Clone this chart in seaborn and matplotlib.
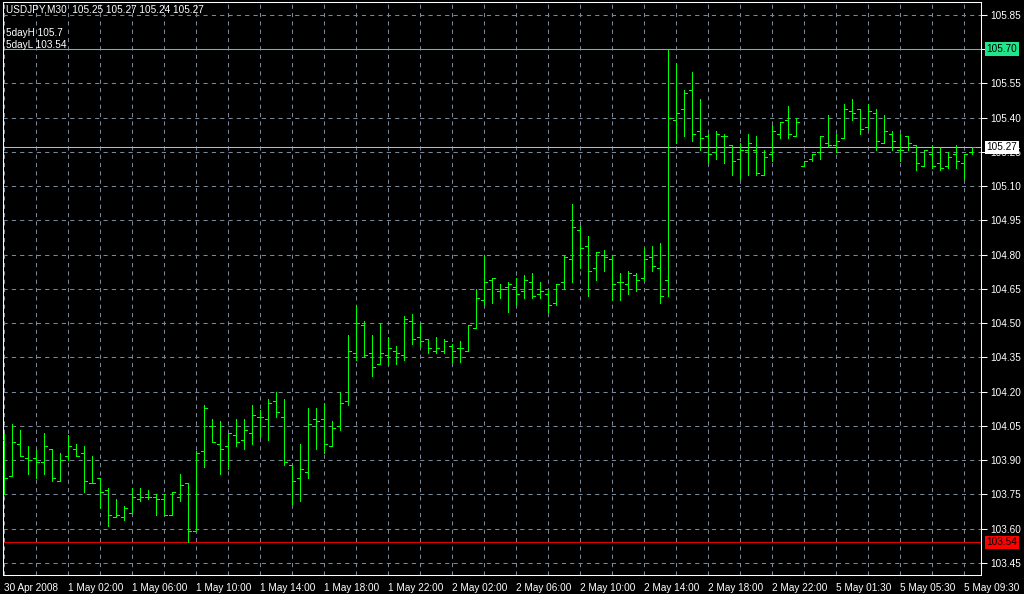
import matplotlib
matplotlib.use("Agg")
import matplotlib.pyplot as plt
import seaborn as sns
import pandas as pd
from matplotlib.transforms import blended_transform_factory
from matplotlib.ticker import MultipleLocator

sns.set_theme(style="dark")
plt.rcParams["font.family"] = ["Liberation Sans", "DejaVu Sans"]

# ---------------- data (USDJPY, M30) ----------------
opens = [103.99, 103.83, 103.97, 103.91, 103.91, 103.89, 103.95, 103.81, 103.92, 103.95,
         103.93, 103.80, 103.82, 103.77, 103.65, 103.65, 103.67, 103.73, 103.74, 103.74,
         103.73, 103.66, 103.74, 103.80, 103.59, 103.94, 104.05, 103.97, 103.96, 104.01,
         103.99, 104.02, 104.09, 104.08, 104.16, 104.09, 103.88, 103.82, 103.85, 104.08,
         104.08, 103.96, 104.05, 104.16, 104.37, 104.49, 104.37, 104.32, 104.36, 104.38,
         104.36, 104.51, 104.44, 104.43, 104.38, 104.38, 104.40, 104.39, 104.38, 104.48,
         104.60, 104.69, 104.64, 104.66, 104.66, 104.64, 104.68, 104.63, 104.63, 104.59,
         104.68, 104.78, 104.91, 104.84, 104.74, 104.80, 104.78, 104.68, 104.67, 104.71,
         104.70, 104.79, 104.74, 104.69, 105.39, 105.44, 105.52, 105.34, 105.32, 105.25,
         105.32, 105.28, 105.22, 105.26, 105.26, 105.15, 105.24, 105.33, 105.39, 105.32,
         105.19, 105.22, 105.25, 105.29, 105.28, 105.31, 105.43, 105.44, 105.36, 105.42,
         105.29, 105.33, 105.26, 105.32, 105.28, 105.19, 105.24, 105.20, 105.19, 105.24,
         105.20, 105.25]
highs = [104.02, 104.06, 104.03, 103.96, 103.95, 104.02, 103.95, 103.93, 104.01, 103.97,
         103.96, 103.92, 103.82, 103.78, 103.73, 103.70, 103.78, 103.78, 103.77, 103.75,
         103.75, 103.76, 103.84, 103.80, 103.94, 104.14, 104.08, 104.07, 104.02, 104.08,
         104.08, 104.14, 104.12, 104.17, 104.20, 104.17, 103.88, 103.97, 104.13, 104.13,
         104.15, 104.07, 104.20, 104.45, 104.58, 104.51, 104.45, 104.50, 104.44, 104.40,
         104.53, 104.54, 104.50, 104.43, 104.44, 104.43, 104.41, 104.42, 104.49, 104.65,
         104.80, 104.70, 104.67, 104.68, 104.70, 104.71, 104.72, 104.68, 104.65, 104.67,
         104.80, 105.02, 104.93, 104.88, 104.81, 104.82, 104.80, 104.72, 104.73, 104.72,
         104.83, 104.84, 104.85, 105.70, 105.64, 105.52, 105.60, 105.48, 105.33, 105.34,
         105.33, 105.28, 105.29, 105.33, 105.32, 105.26, 105.37, 105.38, 105.45, 105.40,
         105.21, 105.24, 105.32, 105.41, 105.33, 105.46, 105.48, 105.44, 105.46, 105.44,
         105.41, 105.34, 105.33, 105.32, 105.28, 105.26, 105.28, 105.27, 105.25, 105.28,
         105.24, 105.27]
lows = [103.75, 103.83, 103.92, 103.84, 103.82, 103.84, 103.81, 103.81, 103.90, 103.92,
        103.76, 103.80, 103.69, 103.61, 103.65, 103.64, 103.67, 103.72, 103.73, 103.66,
        103.66, 103.66, 103.72, 103.54, 103.59, 103.87, 103.98, 103.84, 103.86, 103.96,
        103.95, 103.97, 104.00, 103.99, 104.09, 103.88, 103.71, 103.72, 103.82, 103.95,
        103.93, 103.96, 104.03, 104.14, 104.34, 104.35, 104.27, 104.32, 104.32, 104.32,
        104.34, 104.41, 104.40, 104.37, 104.37, 104.37, 104.33, 104.33, 104.38, 104.48,
        104.58, 104.59, 104.61, 104.55, 104.58, 104.61, 104.61, 104.61, 104.55, 104.58,
        104.65, 104.68, 104.74, 104.62, 104.69, 104.73, 104.60, 104.60, 104.63, 104.64,
        104.69, 104.73, 104.59, 104.62, 105.29, 105.32, 105.30, 105.26, 105.20, 105.22,
        105.20, 105.15, 105.13, 105.15, 105.15, 105.15, 105.21, 105.31, 105.31, 105.32,
        105.19, 105.21, 105.22, 105.27, 105.25, 105.31, 105.39, 105.33, 105.35, 105.26,
        105.29, 105.26, 105.21, 105.26, 105.17, 105.19, 105.18, 105.17, 105.18, 105.18,
        105.13, 105.24]
closes = [103.82, 103.98, 103.92, 103.90, 103.89, 103.96, 103.82, 103.90, 103.96, 103.92,
          103.81, 103.80, 103.76, 103.66, 103.66, 103.69, 103.74, 103.74, 103.74, 103.73,
          103.66, 103.76, 103.79, 103.59, 103.93, 104.13, 103.98, 103.95, 104.02, 103.98,
          104.03, 104.10, 104.09, 104.15, 104.11, 103.89, 103.81, 103.86, 104.06, 104.07,
          103.97, 104.04, 104.15, 104.38, 104.50, 104.36, 104.31, 104.37, 104.39, 104.37,
          104.52, 104.43, 104.42, 104.39, 104.39, 104.42, 104.38, 104.39, 104.49, 104.61,
          104.68, 104.70, 104.65, 104.67, 104.63, 104.69, 104.62, 104.64, 104.58, 104.67,
          104.79, 104.92, 104.83, 104.73, 104.81, 104.79, 104.67, 104.68, 104.72, 104.69,
          104.78, 104.75, 104.62, 105.40, 105.42, 105.51, 105.33, 105.31, 105.24, 105.33,
          105.32, 105.21, 105.26, 105.29, 105.16, 105.23, 105.34, 105.38, 105.33, 105.38,
          105.21, 105.24, 105.32, 105.28, 105.30, 105.44, 105.42, 105.35, 105.43, 105.30,
          105.34, 105.30, 105.26, 105.29, 105.20, 105.26, 105.19, 105.18, 105.23, 105.21,
          105.24, 105.27]

time_labels = ["30 Apr 2008", "1 May 02:00", "1 May 06:00", "1 May 10:00", "1 May 14:00",
               "1 May 18:00", "1 May 22:00", "2 May 02:00", "2 May 06:00", "2 May 10:00",
               "2 May 14:00", "2 May 18:00", "2 May 22:00", "5 May 01:30", "5 May 05:30",
               "5 May 09:30"]
price_ticks = [103.45, 103.60, 103.75, 103.90, 104.05, 104.20, 104.35, 104.50, 104.65,
               104.80, 104.95, 105.10, 105.25, 105.40, 105.55, 105.70, 105.85]
header = "USDJPY,M30  105.25 105.27 105.24 105.27"
day_high = 105.70
day_low = 103.54
bid = 105.27

df = pd.DataFrame({"open": opens, "high": highs, "low": lows, "close": closes})
df["idx"] = range(len(df))

# ---------------- figure ----------------
W, H = 1024, 594
fig = plt.figure(figsize=(W / 100, H / 100), dpi=100, facecolor="black")
ax = fig.add_axes([3 / W, (H - 575) / H, 978 / W, 573 / H])
ax.set_facecolor("black")

GREEN = "#00FF00"
GRID = "#7A8898"
lw = 0.75
bar_lw = 0.72

# grid
ax.set_xlim(-0.125, 122.125)
ax.set_ylim(103.397, 105.907)
ax.set_xticks(list(range(0, 8 * len(time_labels), 8)))
ax.set_xticklabels(time_labels, ha="left")
ax.xaxis.set_minor_locator(MultipleLocator(4))
ax.set_yticks(price_ticks)
# the 105.70 level is shown by its own coloured price box
ax.set_yticklabels(["" if abs(p - day_high) < 1e-9 else f"{p:.2f}" for p in price_ticks])
ax.yaxis.tick_right()
ax.grid(True, which="both", color=GRID, linestyle=(0, (4, 4)), linewidth=lw)
ax.set_axisbelow(True)

ax.tick_params(axis="x", which="major", colors="white", length=4, width=lw,
               pad=2, labelsize=7.2)
ax.tick_params(axis="x", which="minor", length=0)
ax.tick_params(axis="y", colors="white", length=4, width=lw, pad=2.5,
               labelsize=7.2, right=True, left=False)
for s in ax.spines.values():
    s.set_color("white")
    s.set_linewidth(lw)
    s.set_visible(True)

# level lines
ax.axhline(day_high, color="#1EE68A", lw=lw, zorder=2)
ax.axhline(day_low, color="#E00000", lw=lw, zorder=2)
ax.axhline(bid, color="#B8B8B8", lw=lw, zorder=2)

# OHLC bars
half = 0.375
ax.vlines(df["idx"], df["low"], df["high"], colors=GREEN, lw=bar_lw,
          antialiased=False, zorder=3)
ax.hlines(df["open"], df["idx"] - half, df["idx"], colors=GREEN, lw=bar_lw,
          antialiased=False, zorder=3)
ax.hlines(df["close"], df["idx"], df["idx"] + half, colors=GREEN, lw=bar_lw,
          antialiased=False, zorder=3)

# price labels on the right scale
trans = blended_transform_factory(ax.transAxes, ax.transData)
for val, fc in [(day_high, "#1EE68A"), (bid, "white"), (day_low, "#FF0000")]:
    ax.text(1.0055, val, f"{val:.2f}", transform=trans, ha="left", va="center",
            fontsize=7.2, color="black", zorder=10, clip_on=False,
            bbox=dict(boxstyle="square,pad=0.18", fc=fc, ec="none"))

# top-left info texts
fig.text(6 / W, 1 - 10 / H, header, color="white", fontsize=7.2, va="center", ha="left")
fig.text(6 / W, 1 - 33 / H, f"5dayH {day_high:g}", color="white", fontsize=7.2,
         va="center", ha="left")
fig.text(6 / W, 1 - 45 / H, f"5dayL {day_low:.2f}", color="white", fontsize=7.2,
         va="center", ha="left")

fig.savefig("out.png", dpi=100, facecolor="black")
